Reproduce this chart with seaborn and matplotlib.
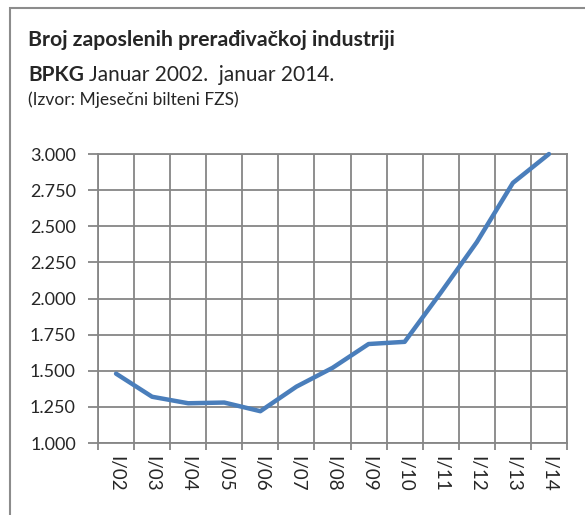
import matplotlib
matplotlib.use('Agg')
import matplotlib.pyplot as plt
import matplotlib.patches as mpatches
import seaborn as sns
import pandas as pd
import numpy as np

# data (employees)
periods = ['I/02', 'I/03', 'I/04', 'I/05', 'I/06', 'I/07', 'I/08',
           'I/09', 'I/10', 'I/11', 'I/12', 'I/13', 'I/14']
employees = [1480, 1320, 1275, 1280, 1220, 1390, 1520,
             1685, 1700, 2040, 2390, 2800, 3000]
y_ticks = [1000, 1250, 1500, 1750, 2000, 2250, 2500, 2750, 3000]

df = pd.DataFrame({'period': periods, 'employees': employees})
df['pos'] = np.arange(len(df))
bounds = np.arange(-0.5, len(periods))

sns.set_style('white')
plt.rcParams['font.family'] = ['Lato', 'DejaVu Sans']

fig = plt.figure(figsize=(5.85, 5.15), dpi=100)
ax = fig.add_axes([98 / 585, 1 - 443 / 515, (567 - 98) / 585, (443 - 154) / 515])

grid_c = '#868686'
# grid as line collections at the tick values / category borders
ax.hlines(y_ticks, bounds[0], bounds[-1], colors=grid_c, linewidth=1.3, zorder=1)
ax.vlines(bounds, y_ticks[0], y_ticks[-1], colors=grid_c, linewidth=1.3, zorder=1)

sns.lineplot(data=df, x='pos', y='employees', ax=ax, color='#4a7ebb',
             linewidth=3.2, errorbar=None, zorder=3)
for l in ax.lines:
    l.set_clip_on(False)
ax.set_xlabel('')
ax.set_ylabel('')

ax.set_xlim(bounds[0], bounds[-1])
ax.set_ylim(y_ticks[0], y_ticks[-1])
ax.set_yticks(y_ticks)
ax.set_yticklabels([f'{v:,}'.replace(',', '.') for v in y_ticks], fontsize=13)
ax.set_xticks(df['pos'])
ax.set_xticklabels(periods, rotation=270, fontsize=13.5)
ax.set_xticks(bounds, minor=True)
ax.tick_params(axis='x', which='major', length=0, pad=9)
ax.tick_params(axis='x', which='minor', length=5, width=1.3, color=grid_c,
               direction='out', bottom=True)
ax.tick_params(axis='y', length=7, width=1.3, color=grid_c, direction='out',
               pad=9, left=True)
for s in ax.spines.values():
    s.set_color(grid_c)
    s.set_linewidth(1.3)

# outer frame
fig.patches.append(mpatches.Rectangle((10 / 585, -0.1), 1.2, 1 - 8 / 515 + 0.1,
                                      transform=fig.transFigure, fill=False,
                                      edgecolor='#8c8c8c', linewidth=1.5))

fig.text(28 / 585, 1 - 40 / 515, 'Broj zaposlenih prerađivačkoj industriji',
         fontsize=15.3, fontweight='bold', va='center', ha='left')
fig.text(28 / 585, 1 - 75 / 515, 'BPKG', fontsize=15, fontweight='bold',
         va='center', ha='left')
fig.text(89 / 585, 1 - 75 / 515, 'Januar 2002.  januar 2014.',
         fontsize=15, va='center', ha='left')
fig.text(28 / 585, 1 - 100 / 515, '(Izvor: Mjesečni bilteni FZS)',
         fontsize=12.5, va='center', ha='left')

fig.savefig('out.png', dpi=100)
